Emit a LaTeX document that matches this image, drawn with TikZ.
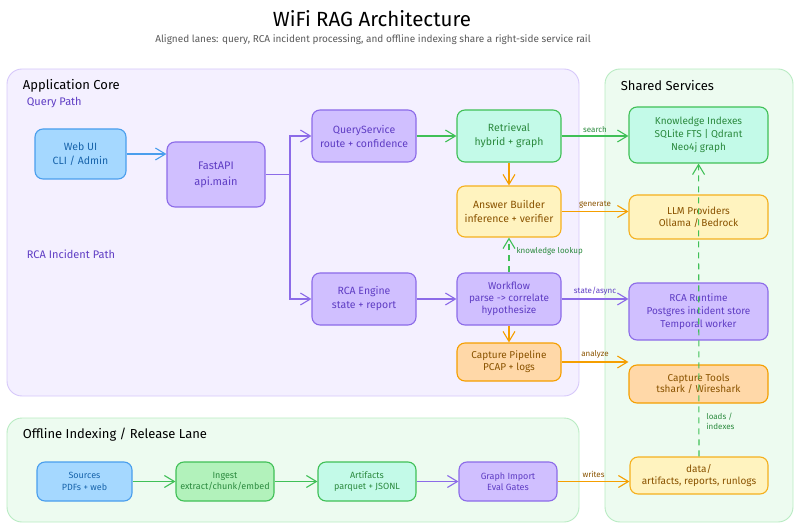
\documentclass[tikz,border=0pt]{standalone}
\usepackage{fontspec}
\setmainfont{Fira Sans}
\usetikzlibrary{arrows.meta}
\definecolor{corefill}{HTML}{F4F0FF}
\definecolor{coreline}{HTML}{D6C8FA}
\definecolor{sharefill}{HTML}{EDFBF0}
\definecolor{shareline}{HTML}{B8EBC2}
\definecolor{pfill}{HTML}{D0BFFF}
\definecolor{pline}{HTML}{8C6BE8}
\definecolor{ptext}{HTML}{5F3DC4}
\definecolor{bfill}{HTML}{A5D8FF}
\definecolor{bline}{HTML}{4A9EED}
\definecolor{btext}{HTML}{1864AB}
\definecolor{gfill}{HTML}{C3FAE8}
\definecolor{ifill}{HTML}{B2F2BB}
\definecolor{gline}{HTML}{40C057}
\definecolor{gtext}{HTML}{2B8A3E}
\definecolor{yfill}{HTML}{FFF3BF}
\definecolor{yline}{HTML}{F5B01E}
\definecolor{ofill}{HTML}{FFD8A8}
\definecolor{oline}{HTML}{F59F00}
\definecolor{otext}{HTML}{8A5300}
\tikzset{
every picture/.style={line width=1.1pt},
box/.style={draw, rounded corners=8pt, align=center, inner sep=2pt,
  font=\fontsize{10.5}{14}\selectfont},
purplebox/.style={box, fill=pfill, draw=pline, text=ptext},
bluebox/.style={box, fill=bfill, draw=bline, text=btext},
greenbox/.style={box, fill=gfill, draw=gline, text=gtext},
ingestbox/.style={box, fill=ifill, draw=gline, text=gtext},
yellowbox/.style={box, fill=yfill, draw=yline, text=otext},
orangebox/.style={box, fill=ofill, draw=oline, text=otext},
lane/.style={rounded corners=15pt, line width=0.9pt},
lanetitle/.style={anchor=west, font=\fontsize{13}{15}\selectfont},
pathtitle/.style={anchor=west, text=ptext, font=\fontsize{11}{13}\selectfont},
link/.style={-{Straight Barb[length=10pt,width=12pt]}},
lookup/.style={link, dash pattern=on 6pt off 5pt},
elabel/.style={font=\fontsize{8}{10}\selectfont, inner sep=1pt}
}

\begin{document}
\begin{tikzpicture}[x=1pt, y=-1pt]
  \useasboundingbox (0,0) rectangle (800,529);
  % lanes
  \draw[lane, fill=corefill, draw=coreline] (7,69) rectangle (579,396);
  \draw[lane, fill=sharefill, draw=shareline] (605,69) rectangle (793,522);
  \draw[lane, fill=sharefill, draw=shareline] (7,418) rectangle (579,522);
  \node (title) at (372,19) {\fontsize{20.5}{24}\selectfont WiFi RAG Architecture};
  \node[text=black!65, font=\fontsize{10}{12}\selectfont] (subtitle) at (373,40)
    {Aligned lanes: query, RCA incident processing, and offline indexing share a right-side service rail};
  \node[lanetitle] (coretitle) at (19,86) {Application Core};
  \node[lanetitle] (sharetitle) at (617,86) {Shared Services};
  \node[lanetitle] (offtitle) at (19,435) {Offline Indexing / Release Lane};
  \node[pathtitle] (qpath) at (23,103) {Query Path};
  \node[pathtitle] (rpath) at (23,254) {RCA Incident Path};

  % application core
  \node[bluebox, minimum width=91, minimum height=50] (web) at (80.5,154) {Web UI\\CLI / Admin};
  \node[purplebox, minimum width=98, minimum height=65, font=\fontsize{11}{16}\selectfont] (api) at (216,174.5) {FastAPI\\api.main};
  \node[purplebox, minimum width=104, minimum height=52] (qsvc) at (364,136) {QueryService\\route + confidence};
  \node[greenbox, minimum width=104, minimum height=52] (retr) at (509,136) {Retrieval\\hybrid + graph};
  \node[yellowbox, minimum width=104, minimum height=51] (ans) at (509,211.5) {Answer Builder\\inference + verifier};
  \node[purplebox, minimum width=104, minimum height=52] (rca) at (364,299) {RCA Engine\\state + report};
  \node[purplebox, minimum width=104, minimum height=52, font=\fontsize{10}{12}\selectfont] (wflow) at (509,299)
    {Workflow\\parse -> correlate\\hypothesize};
  \node[orangebox, minimum width=104, minimum height=38, font=\fontsize{10}{12}\selectfont] (capp) at (509,362) {Capture Pipeline\\PCAP + logs};

  % shared services
  \node[greenbox, minimum width=139, minimum height=56, font=\fontsize{10}{13}\selectfont] (kidx) at (698.5,135)
    {Knowledge Indexes\\SQLite FTS | Qdrant\\Neo4j graph};
  \node[yellowbox, minimum width=139, minimum height=44, font=\fontsize{10}{12}\selectfont] (llm) at (698.5,217) {LLM Providers\\Ollama / Bedrock};
  \node[purplebox, minimum width=139, minimum height=57, font=\fontsize{10}{13}\selectfont] (rrt) at (698.5,311.5)
    {RCA Runtime\\Postgres incident store\\Temporal worker};
  \node[orangebox, minimum width=139, minimum height=38, font=\fontsize{10}{11.5}\selectfont] (ctools) at (698.5,384) {Capture Tools\\tshark / Wireshark};
  \node[yellowbox, minimum width=138, minimum height=37, font=\fontsize{10}{11.5}\selectfont] (data) at (699,475.5) {data/\\artifacts, reports, runlogs};

  % offline lane
  \node[bluebox, minimum width=95, minimum height=39, font=\fontsize{9}{11.5}\selectfont] (src) at (84.5,481.5) {Sources\\PDFs + web};
  \node[ingestbox, minimum width=98, minimum height=39, font=\fontsize{9}{11.5}\selectfont] (ingest) at (225,481.5) {Ingest\\extract/chunk/embed};
  \node[greenbox, minimum width=98, minimum height=39, font=\fontsize{9}{11.5}\selectfont] (art) at (367,481.5) {Artifacts\\parquet + JSONL};
  \node[purplebox, minimum width=98, minimum height=39, font=\fontsize{9}{11.5}\selectfont] (gimp) at (508,481.5) {Graph Import\\Eval Gates};

  % query path
  \coordinate (fork) at (290,174.5);
  \draw[link, bline] (web) -- (api.west |- web);
  \draw[pline] (api.east) -- (fork);
  \draw[link, pline] (fork) |- (qsvc.west);
  \draw[link, pline] (fork) |- (rca.west);
  \draw[link, gline] (qsvc) -- (retr);
  \draw[link, gline] (retr) -- node[elabel, above=2pt, text=gtext] {search} (kidx.west |- retr);
  \draw[link, oline] (retr) -- (ans);
  \draw[link, oline] (ans) -- node[elabel, above=2pt, text=otext] {generate} (llm.west |- ans);

  % rca path
  \draw[link, pline] (rca) -- (wflow);
  \draw[link, pline] (wflow) -- node[elabel, above=2pt, text=ptext] {state/async} (rrt.west |- wflow);
  \draw[link, oline] (wflow) -- (capp);
  \draw[link, oline] (capp) -- node[elabel, above=2pt, text=otext] {analyze} (ctools.west |- capp);
  \draw[lookup, gline] (wflow) -- node[elabel, right=6pt, pos=0.6, text=gtext] {knowledge lookup} (ans);

  % offline lane
  \draw[link, gline] (src) -- (ingest);
  \draw[link, gline] (ingest) -- (art);
  \draw[link, pline] (art) -- (gimp);
  \draw[link, oline] (gimp) -- node[elabel, above=2pt, text=otext] {writes} (data.west |- gimp);
  \draw[lookup, gline] (data) -- node[elabel, right=6pt, pos=0.12, align=left, text=gtext] {loads /\\indexes} (kidx);
\end{tikzpicture}
\end{document}
